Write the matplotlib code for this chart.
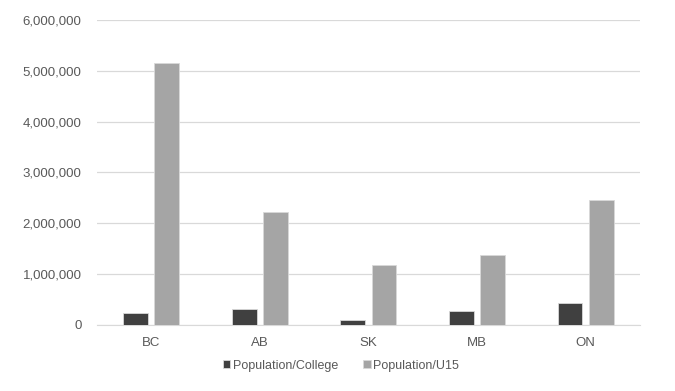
import numpy as np
import matplotlib.pyplot as plt
from matplotlib.ticker import FuncFormatter

plt.rcParams["font.family"] = ["Liberation Sans", "DejaVu Sans"]

provinces = ["BC", "AB", "SK", "MB", "ON"]
pop_college = [240000, 315000, 100000, 275000, 430000]
pop_u15 = [5160000, 2220000, 1180000, 1380000, 2460000]

x = np.arange(len(provinces))
w = 0.228
off = 0.143

fig = plt.figure(figsize=(6.75, 3.91), dpi=100)
ax = fig.add_axes([0.1435, 0.169, 0.8045, 0.78])

ax.bar(x - off, pop_college, w, color="#404040", edgecolor="#d9d9d9",
       linewidth=0.6, label="Population/College", zorder=3)
ax.bar(x + off, pop_u15, w, color="#a5a5a5", edgecolor="#d9d9d9",
       linewidth=0.6, label="Population/U15", zorder=3)

ax.set_ylim(0, 6000000)
ax.set_xlim(-0.5, len(provinces) - 0.5)
ax.set_yticks(np.arange(0, 6000001, 1000000))
ax.yaxis.set_major_formatter(FuncFormatter(lambda v, p: f"{int(v):,}"))
ax.set_xticks(x)
ax.set_xticklabels(provinces)

ax.grid(axis="y", color="#d9d9d9", linewidth=0.9, zorder=0)
for s in ["top", "right", "left"]:
    ax.spines[s].set_visible(False)
ax.spines["bottom"].set_color("#d9d9d9")
ax.tick_params(axis="both", length=0, labelsize=9.5, colors="#595959")
ax.tick_params(axis="y", pad=11)
ax.tick_params(axis="x", pad=9)

fig.legend(loc="center", bbox_to_anchor=(0.505, 0.065), ncol=2, frameon=False,
           fontsize=9, handlelength=0.6, handleheight=0.6, handletextpad=0.2,
           columnspacing=2.0, labelcolor="#595959")

plt.savefig("out.png", dpi=100)
